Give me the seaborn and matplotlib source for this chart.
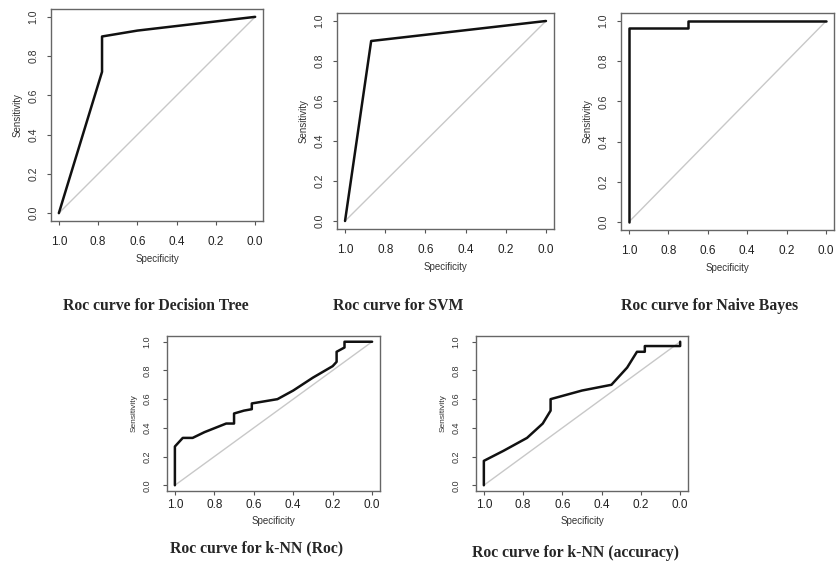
import numpy as np
import pandas as pd
import seaborn as sns
import matplotlib.pyplot as plt

# ROC points (specificity, sensitivity)
dt_spec = [1.0, 0.78, 0.78, 0.60, 0.0]
dt_sens = [0.0, 0.72, 0.90, 0.93, 1.0]

svm_spec = [1.0, 0.87, 0.0]
svm_sens = [0.0, 0.90, 1.0]

nb_spec = [1.0, 1.0, 0.70, 0.70, 0.0]
nb_sens = [0.0, 0.967, 0.967, 1.0, 1.0]

knn_roc_spec = [1.0, 1.0, 0.96, 0.91, 0.85, 0.74, 0.70, 0.70, 0.65, 0.61, 0.61,
                0.48, 0.40, 0.30, 0.20, 0.18, 0.18, 0.14, 0.14, 0.0]
knn_roc_sens = [0.0, 0.27, 0.33, 0.33, 0.37, 0.43, 0.43, 0.50, 0.52, 0.53, 0.57,
                0.60, 0.66, 0.75, 0.83, 0.86, 0.93, 0.96, 1.0, 1.0]

knn_acc_spec = [1.0, 1.0, 0.90, 0.78, 0.70, 0.66, 0.66, 0.50, 0.35, 0.27, 0.22,
                0.18, 0.18, 0.0, 0.0]
knn_acc_sens = [0.0, 0.17, 0.24, 0.33, 0.43, 0.52, 0.60, 0.66, 0.70, 0.82, 0.93,
                0.93, 0.97, 0.97, 1.0]

titles = ["Roc curve for Decision Tree", "Roc curve for SVM", "Roc curve for Naive Bayes",
          "Roc curve for k-NN (Roc)", "Roc curve for k-NN (accuracy)"]
ticks = [0.0, 0.2, 0.4, 0.6, 0.8, 1.0]

sns.set_style("white")
plt.rcParams['font.family'] = ['Liberation Sans', 'DejaVu Sans']

W, H = 836, 562
fig = plt.figure(figsize=(W / 100, H / 100), dpi=100)

# panel boxes in pixels: left, right, top, bottom
boxes = [(51, 263, 9, 221), (337, 554, 13, 229), (621, 834, 13, 230),
         (167, 380, 336, 491), (476, 688, 336, 491)]
curves = [(dt_spec, dt_sens), (svm_spec, svm_sens), (nb_spec, nb_sens),
          (knn_roc_spec, knn_roc_sens), (knn_acc_spec, knn_acc_sens)]
# title centers in pixels
title_pos = [(156, 306), (398, 306), (710, 306), (257, 548), (576, 553)]

for i, ((l, r, t, b), (sp, se)) in enumerate(zip(boxes, curves)):
    ax = fig.add_axes([l / W, 1 - b / H, (r - l) / W, (b - t) / H])
    small = i >= 3
    ax.plot([1, 0], [0, 1], color='#c8c8c8', lw=1.0, zorder=1)
    df = pd.DataFrame({'Specificity': sp, 'Sensitivity': se})
    sns.lineplot(data=df, x='Specificity', y='Sensitivity', sort=False, estimator=None,
                 color='#111111', lw=1.8, ax=ax, zorder=2)
    ax.set_xlim(1.04, -0.04)
    ax.set_ylim(-0.04, 1.04)
    ax.set_xticks(ticks)
    ax.set_yticks(ticks)
    ax.set_xticklabels([f"{v:.1f}" for v in ticks], fontsize=8.5, color='#222222')
    ax.set_yticklabels([f"{v:.1f}" for v in ticks], fontsize=6.5 if small else 7.5,
                       rotation=90, va='center', color='#333333')
    ax.tick_params(axis='x', direction='out', length=3, width=0.8,
                   color='#555555', bottom=True, pad=3 if small else 8)
    ax.tick_params(axis='y', direction='out', length=3, width=0.8,
                   color='#555555', left=True, pad=8 if small else 6)
    ax.set_xlabel('Specificity', fontsize=7, color='#333333', labelpad=3 if small else 4)
    ax.set_ylabel('Sensitivity', fontsize=6 if small else 7, color='#333333', labelpad=4)
    for s in ax.spines.values():
        s.set_color('#666666')
        s.set_linewidth(1.0)
    tx, ty = title_pos[i]
    fig.text(tx / W, 1 - ty / H, titles[i], ha='center', va='center',
             family=['Liberation Serif'], fontweight='bold', fontsize=11.3)

fig.savefig('out.png', dpi=100)
